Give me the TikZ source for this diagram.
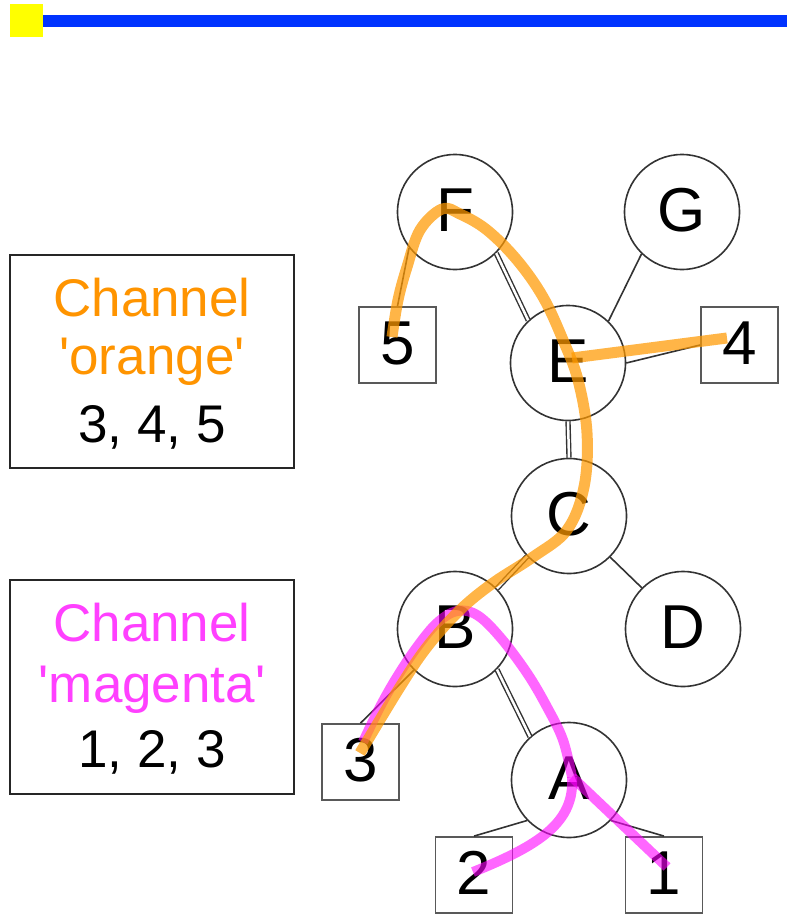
\documentclass[tikz,border=0pt]{standalone}
\usepackage{fontspec}
\setmainfont{Liberation Sans}
\definecolor{chorange}{RGB}{255,153,0}
\definecolor{chmagenta}{RGB}{255,0,255}
\definecolor{txtorange}{RGB}{255,148,0}
\definecolor{txtmagenta}{RGB}{255,64,255}
\definecolor{barblue}{RGB}{0,51,255}
\definecolor{baryellow}{RGB}{255,255,0}
\begin{document}
\begin{tikzpicture}[x=1pt,y=-1pt,
  vertex/.style={circle, draw=black!80, line width=1.6pt, minimum size=115pt, inner sep=0pt, font=\fontsize{62}{62}\selectfont},
  leaf/.style={rectangle, draw=black!65, line width=1.8pt, minimum width=77pt, minimum height=76pt, inner sep=0pt, font=\fontsize{62}{62}\selectfont},
  sedge/.style={draw=black!80, line width=1.6pt},
  dedge/.style={draw=black!80, double=white, double distance=2.5pt, line width=1.4pt},
  legbox/.style={rectangle, draw=black!85, line width=1.8pt, minimum width=284pt, inner sep=0pt},
  legtext/.style={anchor=base, inner sep=0pt, font=\fontsize{53}{60}\selectfont},
  orangepath/.style={draw=chorange, draw opacity=0.72, line width=11pt, line cap=butt, line join=round},
  magentapath/.style={draw=chmagenta, draw opacity=0.6, line width=10pt, line cap=butt, line join=round}
]
\useasboundingbox (0,0) rectangle (787,923);

% top bar
\fill[barblue] (43,15) rectangle (787,27);
\fill[baryellow] (10,4) rectangle (43,37);

% legend boxes
\node[legbox, minimum height=213pt] (leg1) at (152,361.5) {};
\node[legtext, text=txtorange] (l1a) at (152,316) {Channel};
\node[legtext, text=txtorange] (l1b) at (152,374) {\textquotesingle orange\textquotesingle};
\node[legtext, text=black] (l1c) at (152,442) {3, 4, 5};

\node[legbox, minimum height=214pt] (leg2) at (152,687) {};
\node[legtext, text=txtmagenta] (l2a) at (152,641) {Channel};
\node[legtext, text=txtmagenta] (l2b) at (152,702) {\textquotesingle magenta\textquotesingle};
\node[legtext, text=black] (l2c) at (152,767) {1, 2, 3};

% tree nodes
\node[vertex] (F) at (455,212) {\raisebox{4pt}{F}};
\node[vertex] (G) at (682,212) {\raisebox{4pt}{G}};
\node[vertex] (E) at (568,363) {\raisebox{4pt}{E}};
\node[vertex] (C) at (569,516) {\raisebox{4pt}{C}};
\node[vertex] (B) at (455,629) {\raisebox{4pt}{B}};
\node[vertex] (D) at (683,629) {\raisebox{4pt}{D}};
\node[vertex] (A) at (569,780) {\raisebox{4pt}{A}};
\node[leaf] (n5) at (397.5,345) {\raisebox{4pt}{5}};
\node[leaf] (n4) at (739.5,345) {\raisebox{4pt}{4}};
\node[leaf] (n3) at (360.5,762) {\raisebox{4pt}{3}};
\node[leaf] (n2) at (474,875) {\raisebox{4pt}{2}};
\node[leaf] (n1) at (664,875) {\raisebox{4pt}{1}};

% edges
\draw[dedge] (F.-45) -- (E.133);
\draw[sedge] (E.46) -- (G.226);
\draw[sedge] (E.east) -- (n4.west);
\draw[dedge] (E.south) -- (C.north);
\draw[sedge] (C.-45) -- (D.135);
\draw[dedge] (C.224) -- (B.44);
\draw[dedge] (B.-44) -- (A.132);
\draw[sedge] (n5.north) -- (F.218);
\draw[sedge] (n3.north) -- (B.225);
\draw[sedge] (n2.north) -- (A.224);
\draw[sedge] (n1.north) -- (A.-44);

% channel 'magenta'
\coordinate (mA) at (572,777);
\draw[magentapath] plot[smooth, tension=0.6] coordinates {(363,742) (380,707) (397,677) (417,647) (437,623) (457,611) (477,615) (500,637) (527,673) (547,707) (563,740) (572,777)};
\draw[magentapath] (mA) -- (667,867);
\draw[magentapath] (mA) .. controls (575,822) and (540,845) .. (473,872);

% channel 'orange'
\coordinate (oE) at (572,358);
\draw[orangepath] plot[smooth, tension=0.6] coordinates {(392,337) (398,300) (407,267) (420,230) (442,209) (460,214) (487,230) (517,260) (543,297) (563,340) (578,380) (587,433) (584,487) (567,530) (533,557) (493,583) (460,610) (427,647) (400,687) (360,753)};
\draw[orangepath] (oE) -- (727,338);
\end{tikzpicture}
\end{document}
